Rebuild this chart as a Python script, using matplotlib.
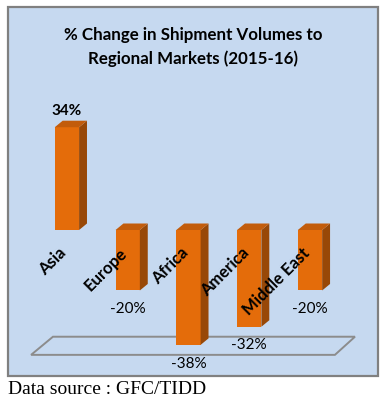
import numpy as np
import matplotlib
matplotlib.use("Agg")
import matplotlib.pyplot as plt
from matplotlib.patches import Polygon, Rectangle

# --- data ---
regions = ["Asia", "Europe", "Africa", "America", "Middle East"]
pct_change = [34, -20, -38, -32, -20]
value_labels = ["34%", "-20%", "-38%", "-32%", "-20%"]

title = "% Change in Shipment Volumes to\nRegional Markets (2015-16)"
source = "Data source : GFC/TIDD"

# colours
BG = "#C6D9F0"
FRONT = "#E46C0A"
SIDE = "#984807"
TOP = "#C25C0B"

W, H = 392, 403
fig = plt.figure(figsize=(W / 100, H / 100), dpi=100)

# panel behind the chart
fig.patches.append(Rectangle((8 / W, 1 - 376 / H), 370 / W, 369 / H,
                             transform=fig.transFigure, facecolor=BG,
                             edgecolor="#808080", linewidth=1.6, zorder=-5))

ax = fig.add_axes([25 / W, 43 / H, 340 / W, 260 / H])
ax.set_zorder(2)
ax.set_xlim(-0.69, 4.905)
ax.set_ylim(-43, 43)
ax.axis("off")

x = np.arange(len(regions))
bw = 0.4
dx, dy = 0.13, 2.15  # fake 3d depth

# floor plate at the bottom of the value range
floor_lo, floor_hi = -41.3, -35.3
floor = Polygon([(-0.59, floor_lo), (4.41, floor_lo), (4.74, floor_hi), (-0.23, floor_hi)],
                closed=True, facecolor=BG, edgecolor="#8C8C8C", linewidth=1.4, zorder=1)
ax.add_patch(floor)

ax.bar(x, pct_change, width=bw, color=FRONT, zorder=3)
for xi, v in zip(x, pct_change):
    left, right = xi - bw / 2, xi + bw / 2
    lo, hi = min(0, v), max(0, v)
    side = Polygon([(right, lo), (right + dx, lo + dy), (right + dx, hi + dy), (right, hi)],
                   closed=True, facecolor=SIDE, edgecolor="none", zorder=3)
    top = Polygon([(left, hi), (left + dx, hi + dy), (right + dx, hi + dy), (right, hi)],
                  closed=True, facecolor=TOP, edgecolor="none", zorder=3)
    ax.add_patch(side)
    ax.add_patch(top)

# value labels
for xi, v, lab in zip(x, pct_change, value_labels):
    if v > 0:
        ax.text(xi, v + 5.5, lab, ha="center", va="center", fontsize=11,
                fontweight="bold", family="Lato", zorder=5)
    else:
        ax.text(xi, v - 6.2, lab, ha="center", va="center", fontsize=11,
                family="Lato", zorder=5)

# category labels, rotated, just below zero
for xi, name in zip(x, regions):
    ax.text(xi - 0.05, -6.8, name, rotation=45, rotation_mode="anchor",
            ha="right", va="center", fontsize=12, fontweight="bold",
            family="Lato", zorder=6)

fig.text(193 / W, 1 - 47 / H, title, ha="center", va="center", fontsize=12.2,
         fontweight="bold", family="Lato", linespacing=1.5)
fig.text(8 / W, 1 - 389 / H, source, ha="left", va="center", fontsize=14,
         family="Liberation Serif")

fig.savefig("out.png", dpi=100)
